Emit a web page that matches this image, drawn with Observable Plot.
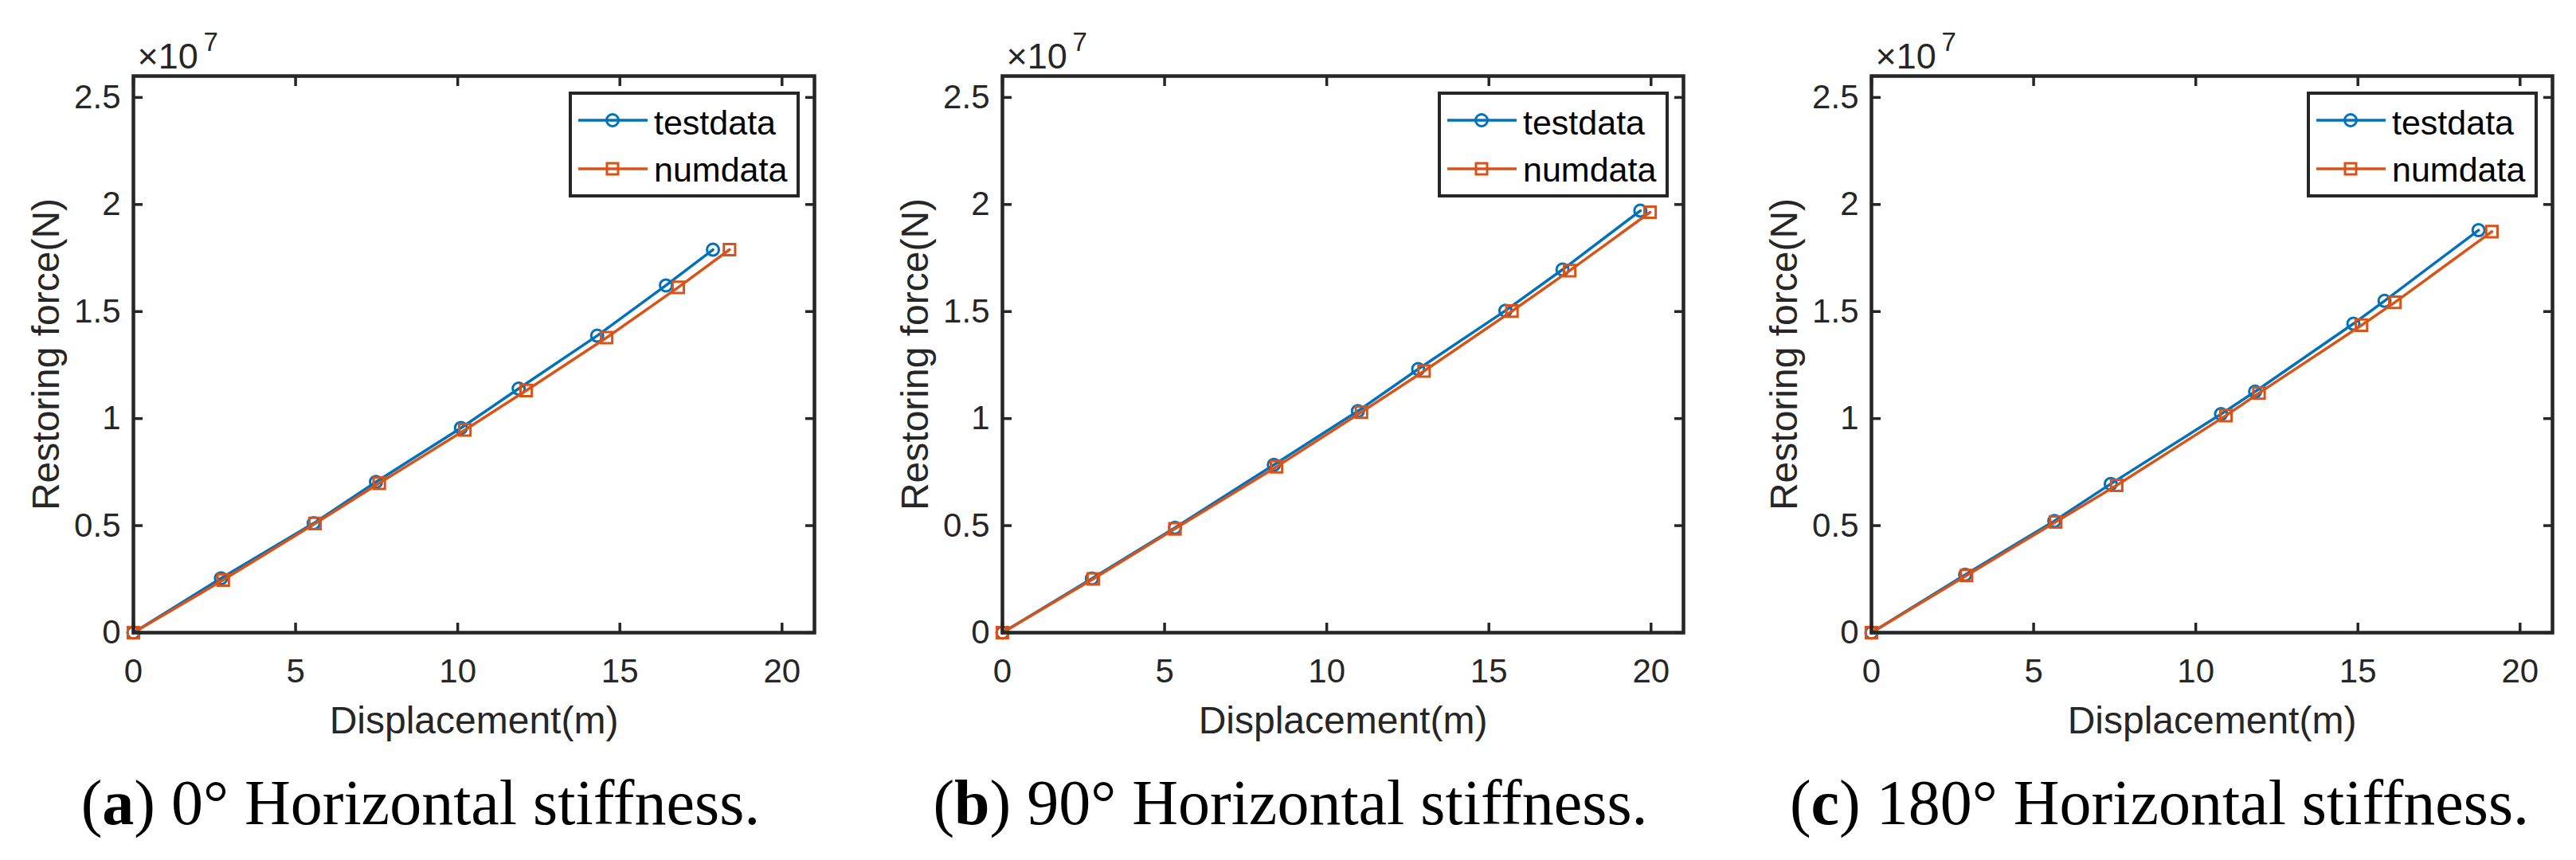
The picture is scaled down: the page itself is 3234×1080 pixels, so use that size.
<!DOCTYPE html>
<html><head><meta charset="utf-8">
<script src="https://cdn.jsdelivr.net/npm/d3@7"></script>
<script src="https://cdn.jsdelivr.net/npm/@observablehq/plot@0.6"></script>
<style>
html,body{margin:0;padding:0;background:#fff;}
#root{position:relative;width:3234px;height:1080px;overflow:hidden;font-family:"Liberation Sans",Arial,sans-serif;}
.panel{position:absolute;top:0;}
.legend{position:absolute;top:115px;}
.caption{position:absolute;width:1200px;text-align:center;font-family:"Liberation Serif","Times New Roman",serif;font-size:80px;line-height:80px;top:968px;color:#000;white-space:nowrap;}
</style></head><body><div id="root"></div>
<script>
// Force values are in units of 1e7 N (axis multiplier ×10^7)
const seriesNames = ["testdata", "numdata"];
const captions = [["a", "0° Horizontal stiffness."], ["b", "90° Horizontal stiffness."], ["c", "180° Horizontal stiffness."]];
const xTicks = [0, 5, 10, 15, 20];
const yTicks = [0, 0.5, 1, 1.5, 2, 2.5];
const xLabel = "Displacement(m)";
const yLabel = "Restoring force(N)";

// (a) 0°
const testX_a = [0, 2.70, 5.56, 7.48, 10.10, 11.88, 14.30, 16.42, 17.87];
const testY_a = [0, 0.254, 0.511, 0.704, 0.956, 1.140, 1.387, 1.622, 1.789];
const numX_a  = [0, 2.77, 5.60, 7.58, 10.22, 12.11, 14.59, 16.80, 18.38];
const numY_a  = [0, 0.246, 0.510, 0.698, 0.947, 1.131, 1.378, 1.613, 1.789];
// (b) 90°
const testX_b = [0, 2.76, 5.32, 8.37, 10.96, 12.82, 15.51, 17.27, 19.67];
const testY_b = [0, 0.253, 0.490, 0.784, 1.035, 1.231, 1.504, 1.696, 1.971];
const numX_b  = [0, 2.80, 5.32, 8.45, 11.07, 13.00, 15.71, 17.49, 19.97];
const numY_b  = [0, 0.251, 0.485, 0.775, 1.030, 1.222, 1.502, 1.691, 1.964];
// (c) 180°
const testX_c = [0, 2.89, 5.64, 7.38, 10.78, 11.83, 14.86, 15.82, 18.72];
const testY_c = [0, 0.271, 0.522, 0.695, 1.021, 1.126, 1.443, 1.550, 1.880];
const numX_c  = [0, 2.93, 5.68, 7.56, 10.93, 11.95, 15.11, 16.14, 19.13];
const numY_c  = [0, 0.267, 0.517, 0.688, 1.014, 1.119, 1.436, 1.543, 1.873];

const BLUE = "#0072BD", ORANGE = "#D95319", AX = "#262626";
const panels = [
  {testX: testX_a, testY: testY_a, numX: numX_a, numY: numY_a},
  {testX: testX_b, testY: testY_b, numX: numX_b, numY: numY_b},
  {testX: testX_c, testY: testY_c, numX: numX_c, numY: numY_c}
];
const panelLeft = [0, 1091, 2182];
const captionCenter = [528, 1620, 2711];

const W = 1052, H = 950, ML = 167, MR = 30, MT = 95, MB = 156;
const TS = 12;
const root = document.getElementById("root");
const fmt = d => String(d);
const blank = () => "";

panels.forEach((p, i) => {
  const test = p.testX.map((x, j) => ({x, y: p.testY[j]}));
  const num = p.numX.map((x, j) => ({x, y: p.numY[j]}));
  const tickStyle = {tickFormat: blank, label: null, stroke: AX, strokeWidth: 3.5, tickSize: TS};
  const svg = Plot.plot({
    width: W, height: H, marginLeft: ML, marginRight: MR, marginTop: MT, marginBottom: MB,
    style: {fontFamily: "'Liberation Sans', Arial, sans-serif", fontSize: "42px", color: AX, background: "transparent", overflow: "visible"},
    x: {domain: [0, 21]},
    y: {domain: [0, 2.6]},
    marks: [
      Plot.line(test, {x: "x", y: "y", stroke: BLUE, strokeWidth: 3.5}),
      Plot.dot(test, {x: "x", y: "y", r: 7.5, stroke: BLUE, strokeWidth: 3, fill: "none"}),
      Plot.line(num, {x: "x", y: "y", stroke: ORANGE, strokeWidth: 3.5}),
      Plot.dot(num, {x: "x", y: "y", symbol: "square", r: 8, stroke: ORANGE, strokeWidth: 3, fill: "none"}),
      Plot.axisX(xTicks, {anchor: "bottom", tickSize: 0, tickPadding: 33, tickFormat: fmt, label: null, fontSize: 42, fill: AX}),
      Plot.axisX(xTicks, {anchor: "bottom", dy: -TS, ...tickStyle}),
      Plot.axisX(xTicks, {anchor: "top", dy: TS, ...tickStyle}),
      Plot.axisY(yTicks, {anchor: "left", tickSize: 0, tickPadding: 16, tickFormat: fmt, label: null, fontSize: 42, fill: AX}),
      Plot.axisY(yTicks, {anchor: "left", dx: TS, ...tickStyle}),
      Plot.axisY(yTicks, {anchor: "right", dx: -TS, ...tickStyle}),
      Plot.frame({stroke: AX, strokeWidth: 4.5}),
      Plot.text([xLabel], {frameAnchor: "bottom", dy: 92, lineAnchor: "top", textAnchor: "middle", fontSize: 48, fill: AX}),
      Plot.text([yLabel], {frameAnchor: "left", dx: -109, rotate: -90, textAnchor: "middle", lineAnchor: "middle", fontSize: 48, fill: AX}),
      Plot.text(["×10"], {frameAnchor: "top-left", dx: 5, dy: -10, lineAnchor: "bottom", textAnchor: "start", fontSize: 45, fill: AX}),
      Plot.text(["7"], {frameAnchor: "top-left", dx: 88, dy: -32, lineAnchor: "bottom", textAnchor: "start", fontSize: 33, fill: AX})
    ]
  });
  svg.classList.add("panel");
  svg.style.left = panelLeft[i] + "px";
  root.appendChild(svg);

  const lg = document.createElementNS("http://www.w3.org/2000/svg", "svg");
  lg.setAttribute("class", "legend");
  lg.setAttribute("width", 292);
  lg.setAttribute("height", 135);
  lg.style.left = (panelLeft[i] + 714) + "px";
  lg.innerHTML = `
    <rect x="2" y="2" width="286" height="129" fill="#fff" stroke="${AX}" stroke-width="4"/>
    <line x1="12" x2="99" y1="36" y2="36" stroke="${BLUE}" stroke-width="3.5"/>
    <circle cx="55" cy="36" r="7.5" fill="none" stroke="${BLUE}" stroke-width="3"/>
    <text x="107" y="54" font-size="43" font-family="Liberation Sans, Arial, sans-serif" fill="#000">${seriesNames[0]}</text>
    <line x1="12" x2="99" y1="97" y2="97" stroke="${ORANGE}" stroke-width="3.5"/>
    <rect x="48" y="90" width="14" height="14" fill="none" stroke="${ORANGE}" stroke-width="3"/>
    <text x="107" y="113" font-size="43" font-family="Liberation Sans, Arial, sans-serif" fill="#000">${seriesNames[1]}</text>`;
  root.appendChild(lg);

  const cap = document.createElement("div");
  cap.className = "caption";
  cap.style.left = (captionCenter[i] - 600) + "px";
  cap.innerHTML = `(<b>${captions[i][0]}</b>) ${captions[i][1]}`;
  root.appendChild(cap);
});
</script>
</body></html>
